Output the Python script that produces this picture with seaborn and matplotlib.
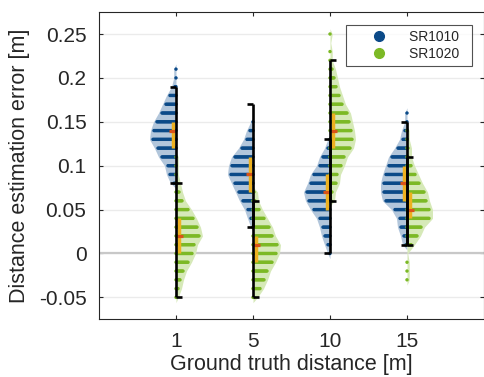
import numpy as np
import pandas as pd
import matplotlib
matplotlib.use('Agg')
import matplotlib.pyplot as plt
import seaborn as sns
from matplotlib.lines import Line2D

# ground truth distances (x categories) and the two sensors
categories = ['1', '5', '10', '15']
series = ['SR1010', 'SR1020']
bin_step = 0.01

# dot histogram per distance, counts listed from the lowest bin upwards
sr1010_low = [0.08, 0.03, 0.00, 0.01]
sr1010_counts = [
    [3, 7, 9, 15, 19, 24, 23, 20, 15, 11, 7, 2, 1, 1],
    [1, 3, 6, 11, 15, 19, 23, 22, 19, 12, 7, 4, 1],
    [1, 3, 6, 8, 11, 17, 22, 24, 20, 17, 11, 8, 3, 1],
    [2, 4, 7, 8, 13, 22, 24, 24, 22, 19, 16, 10, 5, 3, 1, 1],
]
sr1020_low = [-0.05, -0.05, 0.06, -0.03]
sr1020_counts = [
    [1, 3, 5, 8, 13, 17, 19, 24, 22, 18, 13, 7, 4, 2, 1, 1, 1],
    [2, 8, 12, 15, 20, 24, 25, 20, 17, 12, 7, 3, 2],
    [2, 3, 7, 8, 12, 15, 21, 23, 22, 20, 18, 13, 10, 7, 5, 3, 1, 1, 0, 1],
    [1, 1, 1, 0, 5, 11, 15, 23, 23, 20, 18, 13, 9, 5, 2, 2, 1, 1],
]

# median and quartiles
sr1010_med = [0.14, 0.09, 0.07, 0.08]
sr1010_q1 = [0.12, 0.07, 0.05, 0.06]
sr1010_q3 = [0.15, 0.11, 0.09, 0.10]
sr1020_med = [0.02, 0.01, 0.14, 0.05]
sr1020_q1 = [0.00, -0.01, 0.12, 0.04]
sr1020_q3 = [0.04, 0.02, 0.16, 0.07]

# black range bars
sr1010_lo = [0.08, 0.03, 0.00, 0.01]
sr1010_hi = [0.19, 0.17, 0.13, 0.15]
sr1020_lo = [-0.05, -0.05, 0.06, 0.01]
sr1020_hi = [0.08, 0.06, 0.22, 0.11]

colors = {'SR1010': '#0b4a88', 'SR1020': '#7cb925'}
light = {'SR1010': '#b2c6db', 'SR1020': '#d6e9b8'}
side = {'SR1010': -1, 'SR1020': 1}

low = {'SR1010': sr1010_low, 'SR1020': sr1020_low}
counts = {'SR1010': sr1010_counts, 'SR1020': sr1020_counts}
meds = {'SR1010': (sr1010_q1, sr1010_med, sr1010_q3), 'SR1020': (sr1020_q1, sr1020_med, sr1020_q3)}
ranges = {'SR1010': (sr1010_lo, sr1010_hi), 'SR1020': (sr1020_lo, sr1020_hi)}

dx = 1 / 77  # one dot step, about a pixel

sns.set_theme(style='ticks')
plt.rcParams['font.family'] = ['Liberation Sans', 'DejaVu Sans']

fig = plt.figure(figsize=(4.84, 3.77), dpi=100)
ax = fig.add_axes([0.2045, 0.153, 0.7955, 0.815])

# build the dots table
rows = []
for s in series:
    for i in range(len(categories)):
        pos = i + 1
        for j, n in enumerate(counts[s][i]):
            y = round(low[s][i] + j * bin_step, 3)
            for k in range(n):
                rows.append({'series': s, 'x': pos + side[s] * k * dx, 'y': y})
dots = pd.DataFrame(rows)

# light half-violin shapes behind the dots
pad = 2.5 * dx
for s in series:
    for i in range(len(categories)):
        pos = i + 1
        c = np.array(counts[s][i], dtype=float)
        yy = low[s][i] + np.arange(len(c)) * bin_step
        env = np.where(c > 1, c * dx + pad, np.where(c > 0, 0.9 * pad, 0.3 * pad))
        yy = np.concatenate([[yy[0] - 0.006], yy, [yy[-1] + 0.006]])
        env = np.concatenate([[0], env, [0]])
        ax.fill_betweenx(yy, pos, pos + side[s] * env, color=light[s], lw=0, zorder=2)

sns.scatterplot(data=dots, x='x', y='y', hue='series', palette=colors, s=6,
                linewidth=0, legend=False, ax=ax, zorder=3)

for s in series:
    q1, med, q3 = meds[s]
    lo, hi = ranges[s]
    for i in range(len(categories)):
        pos = i + 1
        ax.vlines(pos + side[s] * 0.04, q1[i], q3[i], color='#edb120', lw=2.5, zorder=4)
        ax.hlines(med[i], pos + side[s] * 0.01, pos + side[s] * 0.095, color='#d95319', lw=2.3, zorder=5)
        ax.vlines(pos, lo[i], hi[i], color='black', lw=1.9, zorder=6)
        ax.hlines([lo[i], hi[i]], pos, pos + side[s] * 0.075, color='black', lw=1.9, zorder=6)

ax.axhline(0, color='#c8c8c8', lw=1.6, zorder=1)
ax.set_xlim(0, 5)
ax.set_ylim(-0.075, 0.275)
ax.set_xticks(range(1, len(categories) + 1))
ax.set_xticklabels(categories)
yt = [-0.05, 0, 0.05, 0.1, 0.15, 0.2, 0.25]
ax.set_yticks(yt)
ax.set_yticklabels(['-0.05', '0', '0.05', '0.1', '0.15', '0.2', '0.25'])
ax.yaxis.grid(True, color='#ebebeb', lw=1)
ax.set_axisbelow(True)

for sp in ax.spines.values():
    sp.set_visible(True)
    sp.set_color('#262626')
    sp.set_linewidth(0.8)
ax.tick_params(direction='in', top=True, right=True, length=3, width=0.8,
               colors='#262626', labelsize=15)
ax.tick_params(axis='y', pad=9)
ax.tick_params(axis='x', pad=9)

ax.set_xlabel('Ground truth distance [m]', fontsize=15.5, color='#262626', labelpad=2)
ax.set_ylabel('Distance estimation error [m]', fontsize=15.5, color='#262626', labelpad=6)

handles = [Line2D([], [], ls='none', marker='o', markersize=7, color=colors[s]) for s in series]
leg = ax.legend(handles, [s + '  ' for s in series], loc='upper right',
                bbox_to_anchor=(471.7 / 484, 1 - 25 / 377),
                bbox_transform=fig.transFigure, fontsize=10, frameon=True, fancybox=False,
                handlelength=4.0, handletextpad=0.15, borderpad=0.35, labelspacing=0.2,
                borderaxespad=0)
leg.get_frame().set_edgecolor('#262626')
leg.get_frame().set_linewidth(0.8)

fig.savefig('out.png', dpi=100)
